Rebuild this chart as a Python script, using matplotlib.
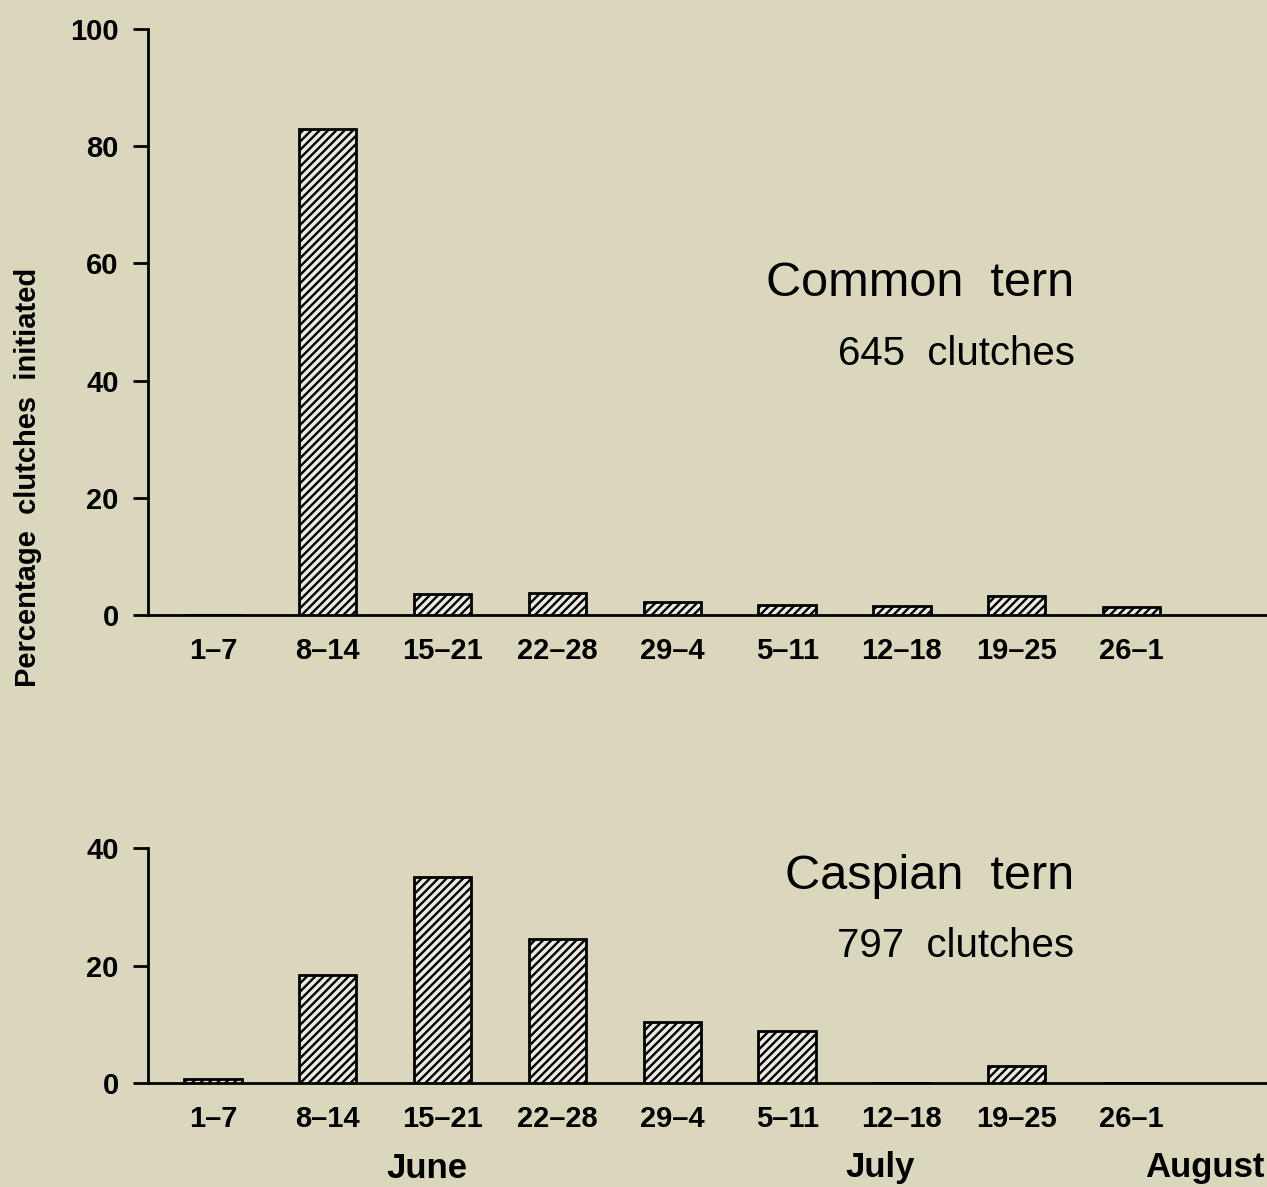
import matplotlib
matplotlib.use('Agg')
import matplotlib.pyplot as plt
from matplotlib import font_manager
import numpy as np

# 週区分
WEEKS = ["1–7", "8–14", "15–21", "22–28", "29–4", "5–11", "12–18", "19–25", "26–1"]
COMMON_PCT = [0.0, 83.0, 3.6, 3.7, 2.2, 1.7, 1.5, 3.2, 1.3]
CASPIAN_PCT = [0.7, 18.4, 35.1, 24.5, 10.4, 8.9, 0.0, 2.9, 0.0]
MONTHS = ["June", "July", "August"]

BG = "#dbd7bc"
BAR_FACE = "#ecebe2"

plt.rcParams['font.family'] = ['Liberation Sans', 'DejaVu Sans']
plt.rcParams['hatch.linewidth'] = 1.7
plt.rcParams['hatch.color'] = 'black'

# 縦軸ラベルは詰まった字形なので、あれば Narrow を使う
installed = {f.name for f in font_manager.fontManager.ttflist}
if 'Liberation Sans Narrow' in installed:
    ylab_family, ylab_size = ['Liberation Sans Narrow', 'Liberation Sans'], 27
else:
    ylab_family, ylab_size = ['Liberation Sans', 'DejaVu Sans'], 21

fig = plt.figure(figsize=(12.67, 11.87), dpi=100)
fig.patch.set_facecolor(BG)

x = np.arange(len(WEEKS))


def setup_axes(ax, ymax, yticks):
    ax.set_facecolor(BG)
    ax.set_xlim(-0.566, 9.18)
    ax.set_ylim(0, ymax)
    for s in ("top", "right"):
        ax.spines[s].set_visible(False)
    ax.spines["left"].set_linewidth(2)
    ax.spines["bottom"].set_linewidth(2)
    ax.set_yticks(yticks)
    ax.set_yticklabels([str(t) for t in yticks], fontsize=21, fontweight='bold')
    ax.tick_params(axis='y', direction='out', length=11, width=2, pad=10)
    ax.set_xticks(x)
    ax.set_xticklabels(WEEKS, fontsize=21, fontweight='bold')
    ax.tick_params(axis='x', length=0, pad=16)


def draw_bars(ax, vals):
    ax.bar(x, vals, width=0.5, color=BAR_FACE, edgecolor='black',
           linewidth=2, hatch='////', zorder=3)


ax1 = fig.add_axes([0.1168, 0.4819, 0.8832, 0.4937])
setup_axes(ax1, 100, [0, 20, 40, 60, 80, 100])
draw_bars(ax1, COMMON_PCT)
ax1.text(0.828, 0.565, "Common  tern", transform=ax1.transAxes, fontsize=35,
         ha='right', va='center')
ax1.text(0.828, 0.445, "645  clutches", transform=ax1.transAxes, fontsize=29,
         ha='right', va='center')

ax2 = fig.add_axes([0.1168, 0.0876, 0.8832, 0.198])
setup_axes(ax2, 40, [0, 20, 40])
draw_bars(ax2, CASPIAN_PCT)
ax2.text(0.828, 0.88, "Caspian  tern", transform=ax2.transAxes, fontsize=35,
         ha='right', va='center')
ax2.text(0.828, 0.585, "797  clutches", transform=ax2.transAxes, fontsize=29,
         ha='right', va='center')

# 月ラベル
month_y = 1 - 1168 / 1187
fig.text(427 / 1267, month_y, MONTHS[0], fontsize=25, fontweight='bold',
         ha='center', va='center')
fig.text(880 / 1267, month_y, MONTHS[1], fontsize=25, fontweight='bold',
         ha='center', va='center')
fig.text(0.998, month_y, MONTHS[2], fontsize=25, fontweight='bold',
         ha='right', va='center')

fig.text(28 / 1267, 1 - 477 / 1187, "Percentage  clutches  initiated",
         fontsize=ylab_size, family=ylab_family, fontweight='bold',
         rotation=90, ha='center', va='center')

fig.savefig("out.png", dpi=100, facecolor=BG)
